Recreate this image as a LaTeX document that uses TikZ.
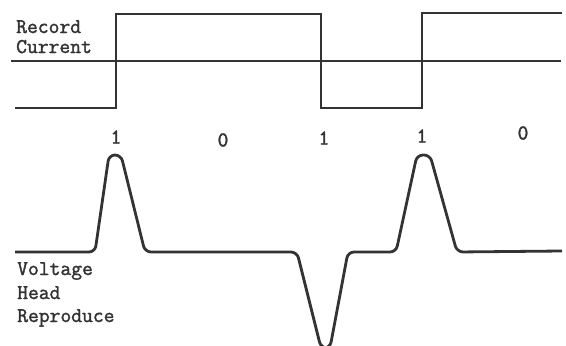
\documentclass[tikz,border=0pt]{standalone}
\usepackage{fontspec}
\usepackage{xcolor}
\usepackage{tikz}
\usetikzlibrary{positioning}
\newfontfamily\typefont{Latin Modern Mono}[FakeBold=1.6]
\definecolor{inkgray}{HTML}{333333}

\begin{document}
\begin{tikzpicture}[
  x=1pt, y=-1pt,
  font=\typefont\fontsize{21}{24}\selectfont,
  trace/.style={draw=inkgray, line width=2.8pt, line join=miter},
  pulse/.style={trace, rounded corners=6pt},
  lbl/.style={inner sep=0pt, anchor=base west, text=inkgray},
  bit/.style={inner sep=0pt, text=inkgray},
]
\useasboundingbox (0,0) rectangle (566,346);

% top: record current (square wave over its zero line)
\node[lbl] (rec) at (16,33) {Record};
\node[lbl] (cur) at (16,53) {Current};
\draw[trace, line width=2.4pt] (11,61) -- (561,61);
\draw[trace] (15,108) -- (116,108) -- (116,14) -- (321,14) -- (321,108)
  -- (422,108) -- (422,13) -- (562,13);

% bit row
\node[bit] (b1) at (116,137) {1};
\node[bit] (b2) at (223,140) {0};
\node[bit] (b3) at (324,138) {1};
\node[bit] (b4) at (422,136) {1};
\node[bit] (b5) at (523,133) {0};

% bottom: reproduce head voltage (one pulse per flux change)
\draw[pulse] (15,252) -- (95,252) -- (109,155) -- (121,155) -- (145,252)
  -- (297,252) -- (321,348) -- (330,348) -- (348,252)
  -- (396,252) -- (417,155) -- (430,155) -- (457,252) -- (562,251);
\node[lbl] (vol) at (17,275) {Voltage};
\node[lbl] (hea) at (17,299) {Head};
\node[lbl] (rep) at (17,322) {Reproduce};
\end{tikzpicture}
\end{document}
